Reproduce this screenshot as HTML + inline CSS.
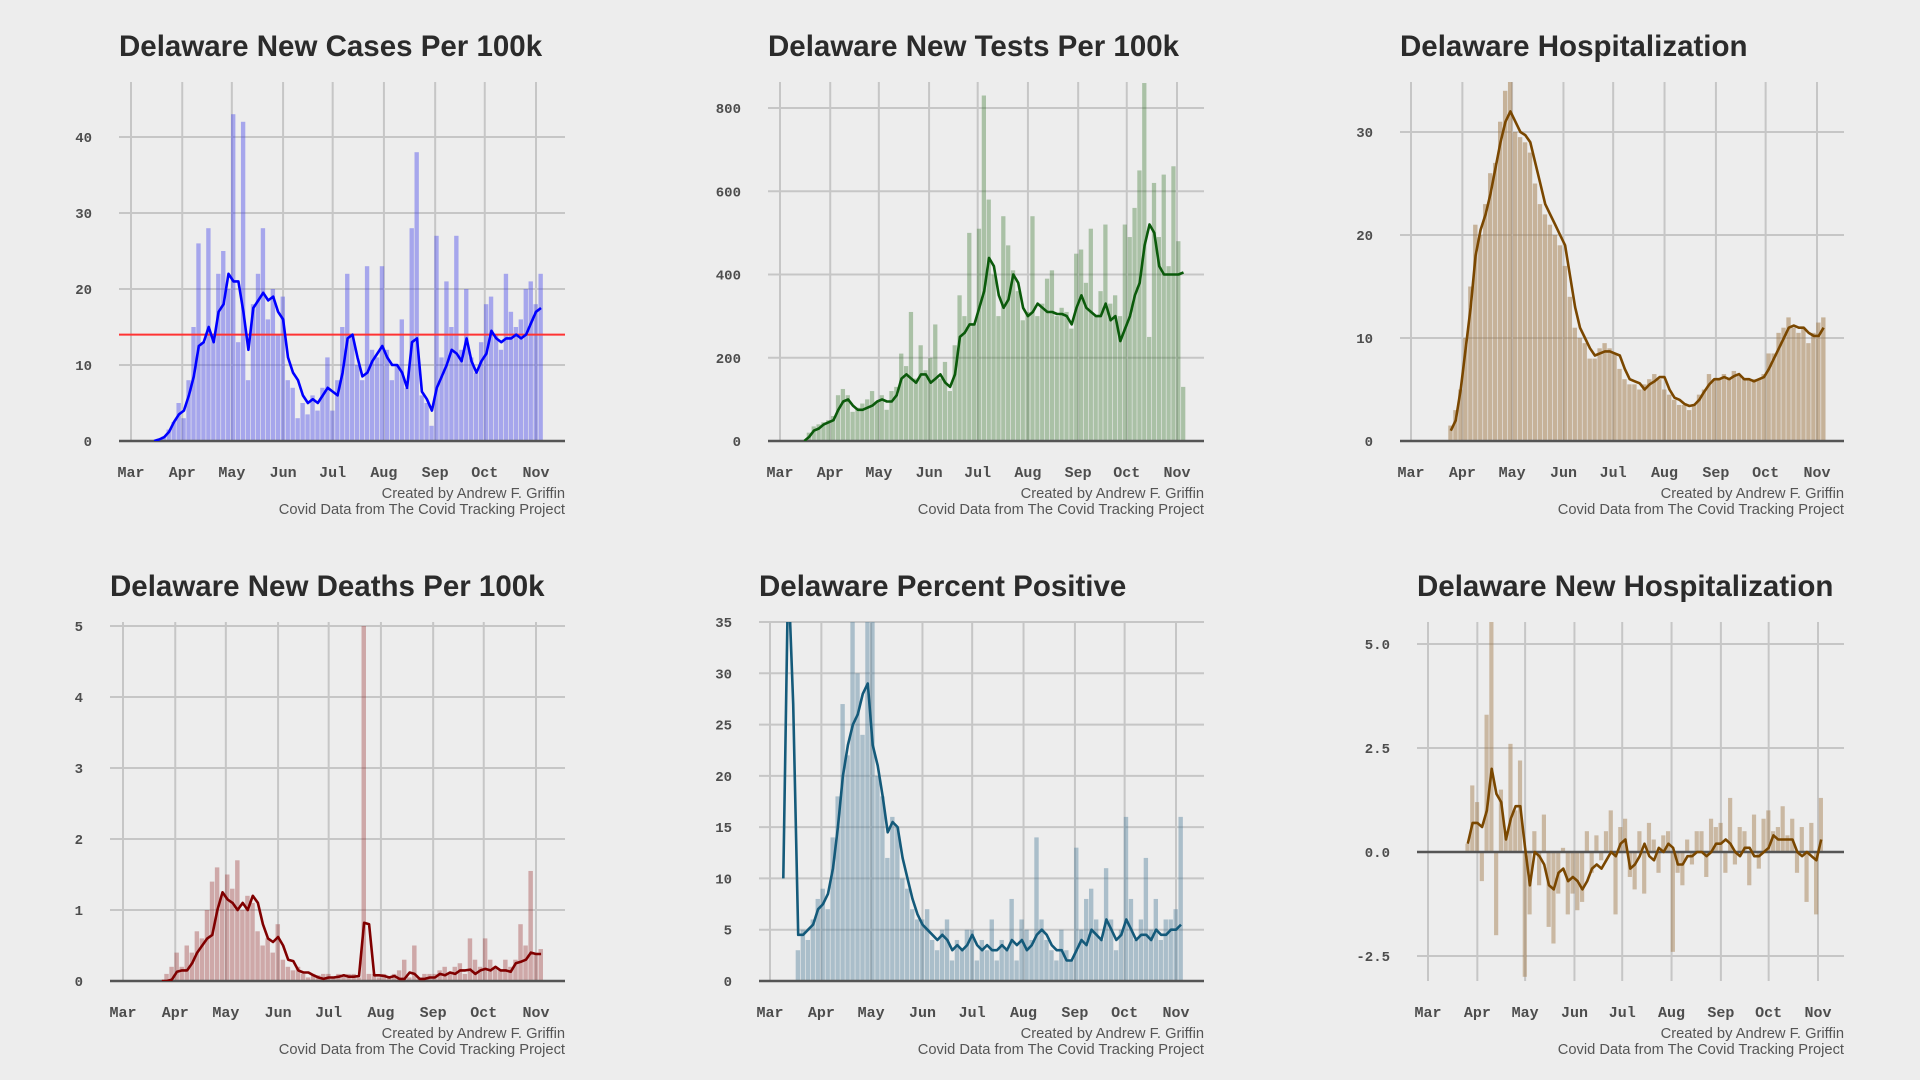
<!DOCTYPE html>
<html><head><meta charset="utf-8"><style>
html,body{margin:0;padding:0;background:#ededed;}
svg{display:block;}
.title{font-family:"Liberation Sans",sans-serif;font-weight:bold;font-size:29.5px;fill:#2b2b2b;}
.tick{font-family:"Liberation Mono",monospace;font-weight:bold;font-size:14px;fill:#4d4d4d;}
.mon{font-family:"Liberation Mono",monospace;font-weight:bold;font-size:15px;fill:#4d4d4d;}
.cap{font-family:"Liberation Sans",sans-serif;font-size:14.7px;fill:#555;}
</style></head><body>
<svg id="root" width="1920" height="1080" viewBox="0 0 1920 1080">
<rect width="1920" height="1080" fill="#ededed"/>
</svg>
<script>
// ---- data (step 3 days) ----
const casesStart = "2020-03-15";
const casesLine = [0,0.2,0.5,1.2,2.5,3.5, 4,6,8.5,12.5,13,15,13,17,18,22, 21,21,17,12,17.5,18.5,19.5,18.5,19,17, 16,11,9,8,6,5,5.5,5,6,7, 6.5,6,9,13.5,14,11,8.5,9,10.5,11.5,12.5, 11,10,10,9,7,13,13.5,6.5,5.5,4, 7,8.5,10,12,11.5,10.5,13.5,10.5,9,10.5, 11.5,14.5,13.5,13,13.5,13.5,14,13.5,14,15.5, 17,17.5];
const casesBars = [0,0.3,0.6,1.5,2.5,5, 3,8,15,26,13,28,14,22,25,20, 43,13,42,8,18,22,28,16,20,14, 19,8,7,3,5,3.5,6,4,7,11, 4,8,15,22,14,10,8,23,12,11,23, 12,8,10,16,7,28,38,6,5,2, 27,11,21,15,27,12,20,11,9,13, 18,19,14,12,22,17,15,16,20,21, 18,22];
const casesRef = [14];
const casesTicks = [0,10,20,30,40];

const testsStart = "2020-03-16";
const testsLine = [0,10,25,30,40,45, 50,75,95,100,85,75,75,80,85,95, 100,95,95,110,150,160,150,140,160,160, 140,150,160,140,130,160,250,260,280,280, 320,360,440,420,350,320,340,400,380,320, 300,310,330,320,310,310,305,305,300,280,320, 350,320,310,300,300,330,290,300,240,270, 300,350,380,470,520,500,420,400,400,400, 400,405];
const testsBars = [0,20,35,40,45,50, 60,110,125,110,70,80,90,100,120,95, 110,75,120,130,210,180,310,150,230,170, 200,280,150,190,120,230,350,300,500,280, 510,830,580,400,300,540,470,410,360,290, 310,540,300,330,390,410,300,320,310,270,450, 460,380,510,300,360,520,330,350,300,520, 490,560,650,860,250,620,490,640,420,660, 480,130];
const testsTicks = [0,200,400,600,800];

const hospStart = "2020-03-25";
const hospLine = [1,2,5, 9,13,18,20.5,22,24,26.5,29,31,32, 31,30,29.7,29,27,25,23,22,21,20, 19,16,13,11,10,9,8.3,8.5,8.7,8.7, 8.5,8.3,7,6,5.8,5.6,5,5.5,5.8,6.2, 6.2,5,4.2,4,3.6,3.4,3.5,4,4.8,5.5,6, 6,6.2,6,6.3,6.5,6,6,5.8,6,6.2, 7,8,9,10,11,11.2,11,11,10.5,10.2, 10.2,11];
const hospBars = [1.5,3,5, 10,15,21,20,23,26,27,31,34,35, 30,29.5,29,28,25,23,22,21,20,19, 17,14,11,10,9.5,8,8,9,9.5,9, 8.5,7,6,5.5,5.5,5,5.5,6,6.5,6, 5,4.5,4,3.5,3.5,3,3.5,4.5,5,6.5,6, 6,6.5,6,6.8,6.5,6,6,6,6,6.5, 8.5,8.5,10.5,11,12,11,10.5,11,9.5,10.5, 11.5,12];
const hospTicks = [0,10,20,30];

const deathsStart = "2020-03-24";
const deathsLine = [0,0,0.02, 0.13,0.15,0.15,0.25,0.4,0.5,0.6,0.65,1.0,1.25, 1.15,1.1,1.0,1.1,1.0,1.2,1.1,0.8,0.6,0.55, 0.62,0.5,0.3,0.28,0.15,0.12,0.12,0.08,0.05,0.03, 0.05,0.05,0.06,0.08,0.06,0.06,0.07,0.82,0.8,0.08,0.08, 0.07,0.05,0.07,0.03,0.03,0.12,0.1,0.03,0.03,0.05, 0.05,0.1,0.08,0.12,0.1,0.15,0.15,0.16,0.1,0.15, 0.17,0.15,0.2,0.15,0.15,0.13,0.25,0.27,0.3,0.4, 0.38,0.38];
const deathsBars = [0,0.1,0.2, 0.4,0.2,0.5,0.4,0.7,0.6,1.0,1.4,1.6,1.2, 1.5,1.3,1.7,1.0,1.2,1.1,0.7,0.5,0.6,0.4, 0.8,0.3,0.2,0.15,0.2,0.1,0.05,0.1,0.08,0.1, 0.1,0.05,0.1,0.08,0.1,0.1,0.05,5.0,0.1,0.1,0.05, 0.1,0.05,0.1,0.15,0.3,0.05,0.5,0.05,0.1,0.1, 0.1,0.15,0.2,0.1,0.2,0.25,0.1,0.6,0.3,0.2, 0.6,0.3,0.2,0.15,0.3,0.2,0.3,0.8,0.5,1.55, 0.4,0.45];
const deathsTicks = [0,1,2,3,4,5];

const pctStart = "2020-03-09";
const pctLine = [10,40,27,4.5,4.5,5,5.5,7, 7.5,8.5,11,15,20,23,25,26,28,29, 23,21,18,14.5,15.5,15,12,10,8,6.5, 5.5,5,4.5,4,4.5,4,3,3.5,3,3.5, 4.5,3.5,3,3.5,3,3,3.5,3,4,3.5,4, 3,3.5,4.5,5,4.5,3.5,3,3,2,2, 3,4,3.5,5,4.5,4,6,5,4,4.5, 6,5,4,4.5,4.5,4,5,4.5,4.5,5, 5,5.5];
const pctBars = [0,0,0,3,5,4,6,8, 9,7,14,18,27,22,35,30,24,35, 35,20,18,12,16,15,10,9,7,6, 6,7,4,3,5,6,2,4,3,5, 5,2,4,3,6,2,4,3,8,2,6, 5,4,14,6,4,3,2,5,3,2, 13,5,8,9,6,4,11,6,3,5, 16,8,4,6,12,5,8,4,6,6, 7,16];
const pctTicks = [0,5,10,15,20,25,30,35];

const nhStart = "2020-03-26";
const nhLine = [0.2,0.7, 0.7,0.6,1.0,2.0,1.4,1.2,0.3,0.8,1.1,1.1, 0.1,-0.8,0.0,-0.1,-0.3,-0.8,-0.9,-0.5,-0.4,-0.7,-0.6, -0.7,-0.9,-0.7,-0.4,-0.3,-0.4,-0.2,0.0,-0.1,0.2, 0.3,-0.4,-0.3,-0.1,0.2,-0.1,-0.2,0.1,0.0,0.2, 0.1,-0.3,-0.3,-0.1,-0.1,0.0,0.0,-0.1,0.0,0.2, 0.2,0.3,0.2,0.0,-0.1,0.1,0.1,-0.1,-0.1,0.0, 0.1,0.4,0.3,0.3,0.3,0.3,0.0,-0.1,0.0,-0.1,-0.2, 0.3];
const nhBars = [0.2,1.6, 1.2,-0.7,3.3,5.6,-2.0,1.5,0.5,2.6,1.0,2.2, -3.0,-1.5,0.5,-0.8,0.9,-1.8,-2.2,-1.0,0.1,-1.5,-1.0, -1.4,-1.2,0.5,-0.5,0.4,-0.2,0.5,1.0,-1.5,0.6, 0.8,-0.6,-0.9,0.5,-1.0,0.7,0.3,-0.5,0.4,0.5, -2.4,-0.5,-0.8,0.3,-0.3,0.5,0.5,-0.6,0.8,0.6, 0.7,-0.5,1.3,-0.3,0.6,0.5,-0.8,0.9,-0.4,0.8, 1.0,0.5,0.6,1.1,0.4,0.8,-0.5,0.6,-1.2,0.7,-1.5, 1.3];
const nhTicks = [-2.5,0,2.5,5];

const monthLabels = ["Mar","Apr","May","Jun","Jul","Aug","Sep","Oct","Nov"];
const monthDays = [0,31,61,92,122,153,184,214,245];

const NS = "http://www.w3.org/2000/svg";
const root = document.getElementById("root");
function mk(tag, attrs, parent){
  const e = document.createElementNS(NS, tag);
  for (const k in attrs) e.setAttribute(k, attrs[k]);
  (parent||root).appendChild(e);
  return e;
}
function dayOf(s){ return Math.round((new Date(s+"T00:00:00Z") - new Date("2020-03-01T00:00:00Z"))/86400000); }

function panel(cfg){
  const g = mk("g", {});
  
  
  const xs = d => cfg.xMar + d*(cfg.xNov-cfg.xMar)/245;
  const ys = v => cfg.y0 - v*cfg.k;
  const clipId = cfg.name+"-clip";
  const cp = mk("clipPath", {id:clipId}, g);
  mk("rect", {x:cfg.left, y:cfg.top, width:cfg.right-cfg.left, height:cfg.bottom-cfg.top}, cp);
  const t = mk("text", {x:cfg.left, y:cfg.top-26, class:"title"}, g);
  t.textContent = cfg.title;
  
  
  cfg.ticks.forEach(v=>{
    const l = mk("line", {x1:cfg.left, x2:cfg.right, y1:ys(v), y2:ys(v), stroke:"#c6c6c6", "stroke-width":2}, g);
    
    
    const tl = mk("text", {x:cfg.left-27, y:ys(v)+5, class:"tick", "text-anchor":"end"}, g);
    tl.textContent = cfg.fmt ? cfg.fmt(v) : String(v);
    
    
  });
  monthDays.forEach((d,i)=>{
    const l = mk("line", {x1:xs(d), x2:xs(d), y1:cfg.top, y2:cfg.bottom, stroke:"#c6c6c6", "stroke-width":2}, g);
    
    
    const ml = mk("text", {x:xs(d), y:cfg.bottom+36, class:"mon", "text-anchor":"middle"}, g);
    ml.textContent = monthLabels[i];
    
    
  });
  const s0 = dayOf(cfg.start);
  const pd = (cfg.xNov-cfg.xMar)/245;
  const bg = mk("g", {"clip-path":"url(#"+clipId+")"}, g);
  cfg.bars.forEach((v,i)=>{
    const d = s0 + i*3;
    const y1 = ys(Math.max(v,0)), y2 = ys(Math.min(v,0));
    const r = mk("rect", {x:xs(d)-1.5*pd, y:y1, width:Math.max(3*pd-0.6,1), height:Math.max(y2-y1,0.5), fill:cfg.barColor}, bg);
    
    
  });
  const z = mk("line", {x1:cfg.left, x2:cfg.right, y1:ys(0), y2:ys(0), stroke:"#555", "stroke-width":2.5}, g);
  
  
  if (cfg.ref) {
    cfg.ref.forEach(v=>{
      const rl = mk("line", {x1:cfg.left, x2:cfg.right, y1:ys(v), y2:ys(v), stroke:"#ff3333", "stroke-width":2}, g);
      
      
    });
  }
  const pts = cfg.line.map((v,i)=> xs(s0+i*3).toFixed(1)+","+ys(v).toFixed(1)).join(" ");
  const pl = mk("polyline", {points:pts, fill:"none", stroke:cfg.lineColor, "stroke-width":2.6, "stroke-linejoin":"round", "clip-path":"url(#"+clipId+")"}, g);
  
  
  const c1 = mk("text", {x:cfg.right, y:cfg.bottom+57, class:"cap", "text-anchor":"end"}, g);
  c1.textContent = "Created by Andrew F. Griffin";
  
  
  const c2 = mk("text", {x:cfg.right, y:cfg.bottom+73, class:"cap", "text-anchor":"end"}, g);
  c2.textContent = "Covid Data from The Covid Tracking Project";
  
  
}

panel({name:"cases", title:"Delaware New Cases Per 100k", left:119,right:565,top:82,bottom:441, xMar:131,xNov:536, y0:441,k:7.6,
  ticks:casesTicks, start:casesStart, line:casesLine, bars:casesBars, ref:casesRef, barColor:"rgba(70,70,235,0.42)", lineColor:"#0000ff"});
panel({name:"tests", title:"Delaware New Tests Per 100k", left:768,right:1204,top:82,bottom:441, xMar:780,xNov:1177, y0:441,k:0.41625,
  ticks:testsTicks, start:testsStart, line:testsLine, bars:testsBars, barColor:"rgba(60,120,50,0.38)", lineColor:"#0b5a0b"});
panel({name:"hospitalization", title:"Delaware Hospitalization", left:1400,right:1844,top:82,bottom:441, xMar:1411,xNov:1817, y0:441,k:10.3,
  ticks:hospTicks, start:hospStart, line:hospLine, bars:hospBars, barColor:"rgba(160,120,70,0.5)", lineColor:"#7a4700"});
panel({name:"deaths", title:"Delaware New Deaths Per 100k", left:110,right:565,top:622,bottom:981, xMar:123,xNov:536, y0:981,k:71,
  ticks:deathsTicks, start:deathsStart, line:deathsLine, bars:deathsBars, barColor:"rgba(150,40,40,0.35)", lineColor:"#800000"});
panel({name:"percent-positive", title:"Delaware Percent Positive", left:759,right:1204,top:622,bottom:981, xMar:770,xNov:1176, y0:981,k:10.257,
  ticks:pctTicks, start:pctStart, line:pctLine, bars:pctBars, barColor:"rgba(70,120,150,0.4)", lineColor:"#145a7a"});
panel({name:"new-hospitalization", title:"Delaware New Hospitalization", left:1417,right:1844,top:622,bottom:981, xMar:1428,xNov:1818, y0:852,k:41.6,
  ticks:nhTicks, fmt:v=>v.toFixed(1), start:nhStart, line:nhLine, bars:nhBars, barColor:"rgba(160,120,70,0.45)", lineColor:"#7a4700"});
</script>
</body></html>
